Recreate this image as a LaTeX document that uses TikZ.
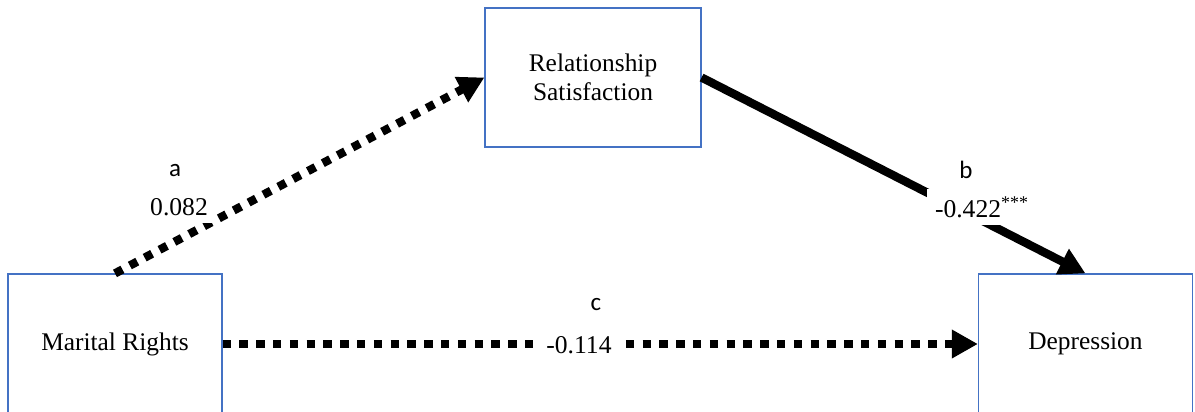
\documentclass[tikz,border=0pt]{standalone}
\usepackage{fontspec}
\setmainfont{Liberation Serif}
\newfontfamily\labelsans{Carlito}
\usetikzlibrary{arrows.meta}
\definecolor{boxblue}{RGB}{68,114,196}
\begin{document}
\begin{tikzpicture}[x=0.5pt,y=-0.5pt,
  varbox/.style={draw=boxblue, line width=0.6pt, minimum width=107pt, minimum height=70pt, inner sep=0pt, align=center, font=\fontsize{12.7}{14.5}\selectfont},
  dotline/.style={line width=4.2pt, dash pattern=on 4.2pt off 4.2pt, -{Triangle[length=13pt,width=13.5pt]}},
  solidline/.style={line width=4.2pt, -{Triangle[length=13pt,width=13.5pt]}},
  coef/.style={fill=white, inner sep=4pt, font=\fontsize{12.8}{14}\selectfont},
  letter/.style={font=\labelsans\fontsize{12.5}{14}\selectfont, inner sep=0pt}
]
\clip (0,0) rectangle (1195,412);
\node[varbox] (mr) at (115,344) {Marital Rights};
\node[varbox, minimum width=108pt, minimum height=69.5pt] (rs) at (593,77.5) {Relationship\\Satisfaction};
\node[varbox] (dep) at (1085.5,344) {Depression};

\draw[dotline] (mr.north) -- (rs.west);
\draw[solidline] (rs.east) -- (dep.north);
\draw[dotline] (mr.east) -- (dep.west);

\node[letter, anchor=base] (la) at (175,176) {a};
\node[coef, anchor=base] (va) at (179,215) {0.082};
\node[letter, anchor=base] (lb) at (966,178) {b};
\node[coef, anchor=base] (vb) at (982,217) {-0.422\textsuperscript{***}};
\node[letter, anchor=base] (lc) at (596,310) {c};
\node[coef, anchor=base] (vc) at (579,353) {-0.114};
\end{tikzpicture}
\end{document}
